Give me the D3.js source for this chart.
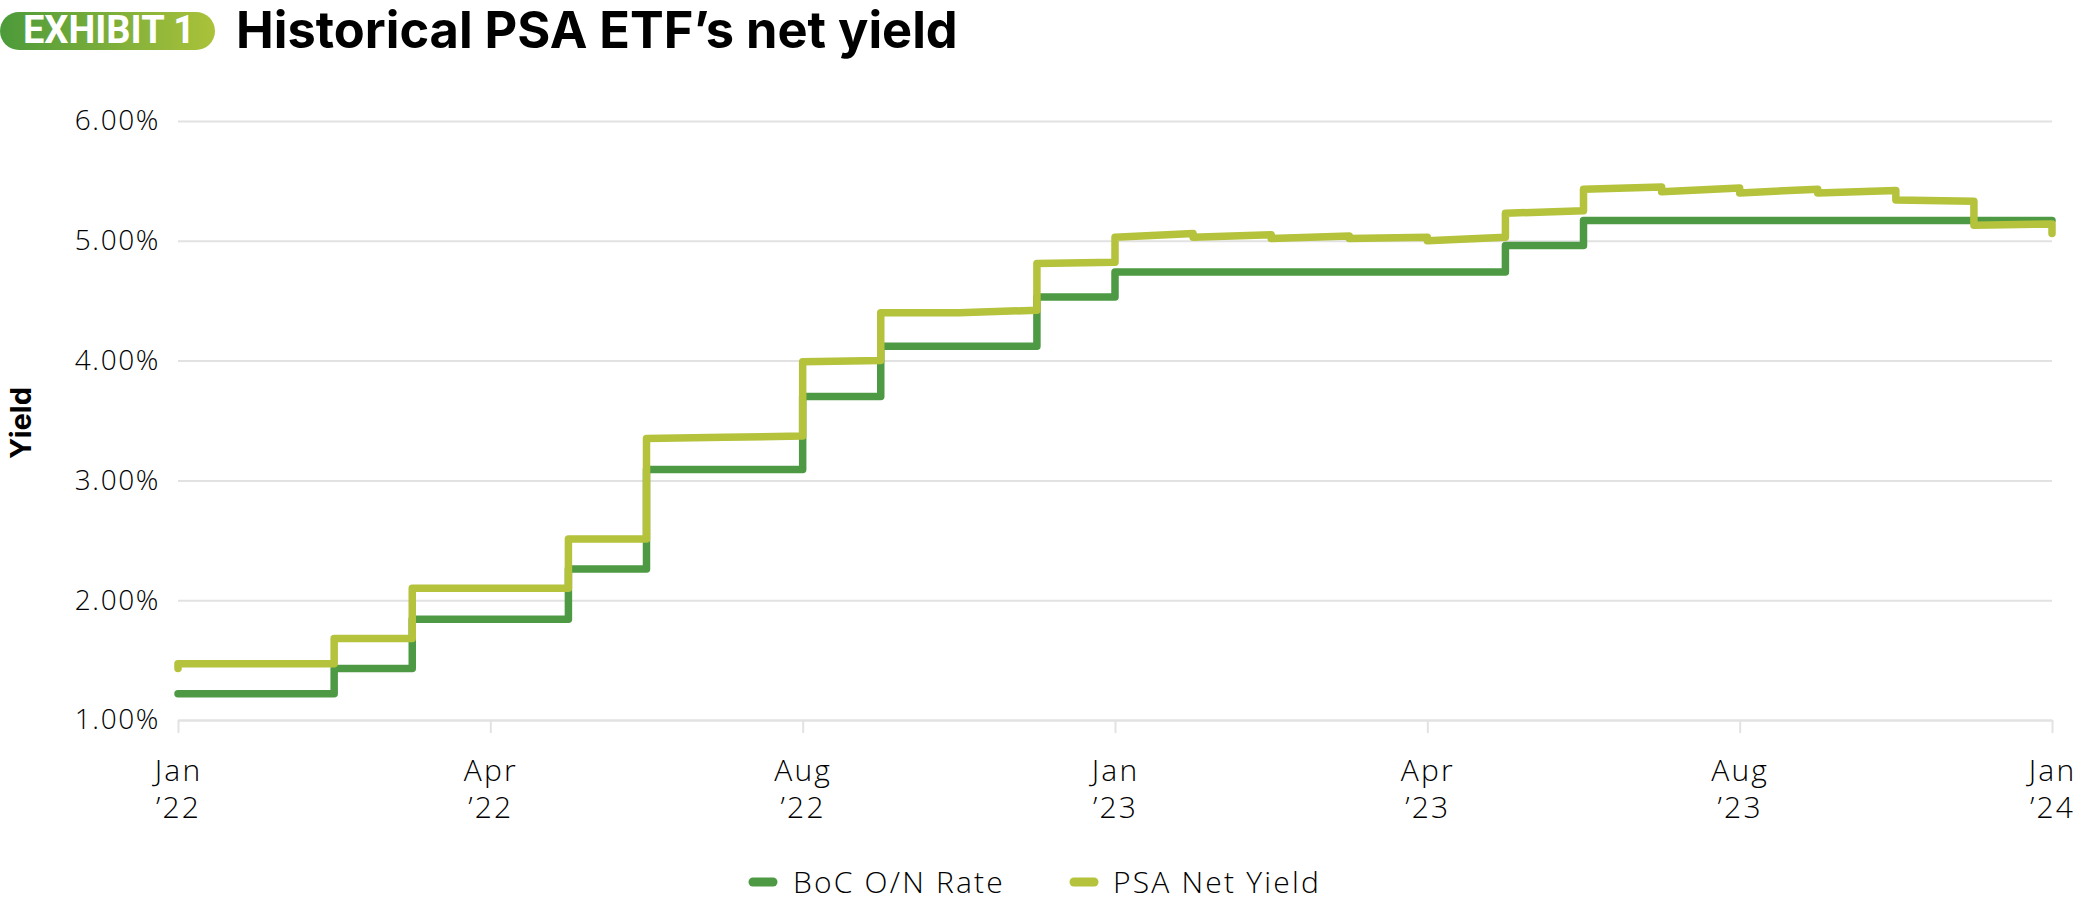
<!DOCTYPE html>
<html><head><meta charset="utf-8">
<script src="https://cdn.jsdelivr.net/npm/d3@7"></script>
<style>body{margin:0;background:#fff;} svg{display:block;}</style>
</head><body>
<svg id="chart" width="2080" height="904"></svg>
<script>
// ---- data ----
const periods = ["T00","T01","T02","T03","T04","T05","T06","T07","T08","T09","T10","T11","T12",
                 "T13","T14","T15","T16","T17","T18","T19","T20","T21","T22","T23","T24"];
const tickPeriods = ["T00","T04","T08","T12","T16","T20","T24"];
const tickMonths  = ["Jan","Apr","Aug","Jan","Apr","Aug","Jan"];
const tickYears   = ["’22","’22","’22","’23","’23","’23","’24"];
const yTicks = [1,2,3,4,5,6];
// BoC O/N Rate (value holds from the period until the next one)
const bocRate = [1.22,1.22,1.43,1.84,1.84,2.26,3.09,3.09,3.70,4.12,4.12,4.53,4.74,
                 4.74,4.74,4.74,4.74,4.96,5.17,5.17,5.17,5.17,5.17,5.17,5.17];
// PSA Net Yield: first reading, value at start and at end of each period, final reading
const psaFirst = 1.43;
const psaOpen  = [1.47,1.47,1.68,2.10,2.10,2.51,3.35,3.36,3.99,4.40,4.40,4.81,
                  5.03,5.03,5.02,5.02,5.00,5.23,5.43,5.41,5.40,5.40,5.34,5.13];
const psaClose = [1.47,1.47,1.68,2.10,2.10,2.51,3.36,3.37,4.00,4.40,4.42,4.82,
                  5.06,5.05,5.04,5.03,5.03,5.25,5.45,5.44,5.43,5.42,5.33,5.14];
const psaLast = 5.06;
const seriesNames = ["BoC O/N Rate","PSA Net Yield"];
const colors = ["#4e9a44","#b4c23c"];

// ---- layout ----
const svg = d3.select("#chart");
const X0 = 178, X1 = 2052, YTOP = 121, YBOT = 720;
const x = d3.scalePoint().domain(periods).range([X0, X1]);
const y = d3.scaleLinear().domain([1,6]).range([YBOT, YTOP]);
const axisFont = "'Open Sans', sans-serif";

function fit(sel, target){
  const w = sel.node().getComputedTextLength();
  const f = parseFloat(sel.attr("font-size"));
  sel.attr("font-size", f*target/w);
}

// badge
const defs = svg.append("defs");
const g1 = defs.append("linearGradient").attr("id","badge").attr("x1","0").attr("x2","1");
g1.append("stop").attr("offset","0").attr("stop-color","#4c9a3a");
g1.append("stop").attr("offset","1").attr("stop-color","#abc23a");
svg.append("rect").attr("x",0).attr("y",12).attr("width",215).attr("height",38)
  .attr("rx",19).attr("fill","url(#badge)");
const bt = svg.append("text").attr("x",23).attr("y",43).attr("fill","#fff")
  .attr("font-family","Roboto, sans-serif").attr("font-weight",700).attr("font-size",32)
  .text("EXHIBIT 1");
fit(bt, 172);

const tt = svg.append("text").attr("x",236).attr("y",48).attr("fill","#000")
  .attr("font-family","Inter, sans-serif").attr("font-weight",700).attr("font-size",44)
  .text("Historical PSA ETF’s net yield");
fit(tt, 722);

// y axis + gridlines
const ya = svg.append("g").attr("transform",`translate(${X0},0)`)
  .call(d3.axisLeft(y).tickValues(yTicks).tickSize(-(X1-X0)).tickPadding(18)
    .tickFormat(d => d.toFixed(2) + "%"));
ya.select(".domain").remove();
ya.selectAll(".tick line").attr("stroke","#e2e2e2").attr("stroke-width",2);
ya.selectAll(".tick text").attr("font-family",axisFont).attr("font-weight",300)
  .attr("font-size",28).attr("letter-spacing",1.6).attr("fill","#000");

// x axis
const xa = svg.append("g").attr("transform",`translate(0,${YBOT})`)
  .call(d3.axisBottom(x).tickValues(tickPeriods).tickSize(13).tickSizeOuter(0).tickFormat(""));
xa.select(".domain").attr("stroke","#e2e2e2").attr("stroke-width",2);
xa.selectAll(".tick line").attr("stroke","#e2e2e2").attr("stroke-width",2);
xa.selectAll(".tick").each(function(d,i){
  const t = d3.select(this).append("text").attr("text-anchor","middle")
    .attr("font-family",axisFont).attr("font-weight",300).attr("font-size",30)
    .attr("letter-spacing",2.2).attr("fill","#000");
  t.append("tspan").attr("x",0).attr("y",61).text(tickMonths[i]);
  t.append("tspan").attr("x",0).attr("y",98).text(tickYears[i]);
});

// y title
svg.append("text").attr("transform","translate(31,423) rotate(-90)").attr("text-anchor","middle")
  .attr("font-family","Inter, sans-serif").attr("font-weight",700).attr("font-size",29)
  .attr("fill","#000").text("Yield");

// lines
const bocLine = d3.line().x((d,i)=>x(periods[i])).y(d=>y(d)).curve(d3.curveStepAfter);
svg.append("path").datum(bocRate).attr("d",bocLine).attr("fill","none")
  .attr("stroke",colors[0]).attr("stroke-width",7.5)
  .attr("stroke-linejoin","round").attr("stroke-linecap","round");

const psaPts = [[0, psaFirst]];
psaOpen.forEach((v,i)=>{ psaPts.push([i, v]); psaPts.push([i+1, psaClose[i]]); });
psaPts.push([periods.length-1, psaLast]);
const psaLine = d3.line().x(d=>x(periods[d[0]])).y(d=>y(d[1]));
svg.append("path").datum(psaPts).attr("d",psaLine).attr("fill","none")
  .attr("stroke",colors[1]).attr("stroke-width",7.5)
  .attr("stroke-linejoin","round").attr("stroke-linecap","round");

// legend
const legX = [749, 1070], legTextX = [793, 1113];
seriesNames.forEach((n,i)=>{
  svg.append("line").attr("x1",legX[i]+4).attr("x2",legX[i]+24).attr("y1",882).attr("y2",882)
    .attr("stroke",colors[i]).attr("stroke-width",9).attr("stroke-linecap","round");
  svg.append("text").attr("x",legTextX[i]).attr("y",893).attr("font-family",axisFont)
    .attr("font-weight",300).attr("font-size",30).attr("letter-spacing",2.2)
    .attr("fill","#000").text(n);
});
</script>
</body></html>
